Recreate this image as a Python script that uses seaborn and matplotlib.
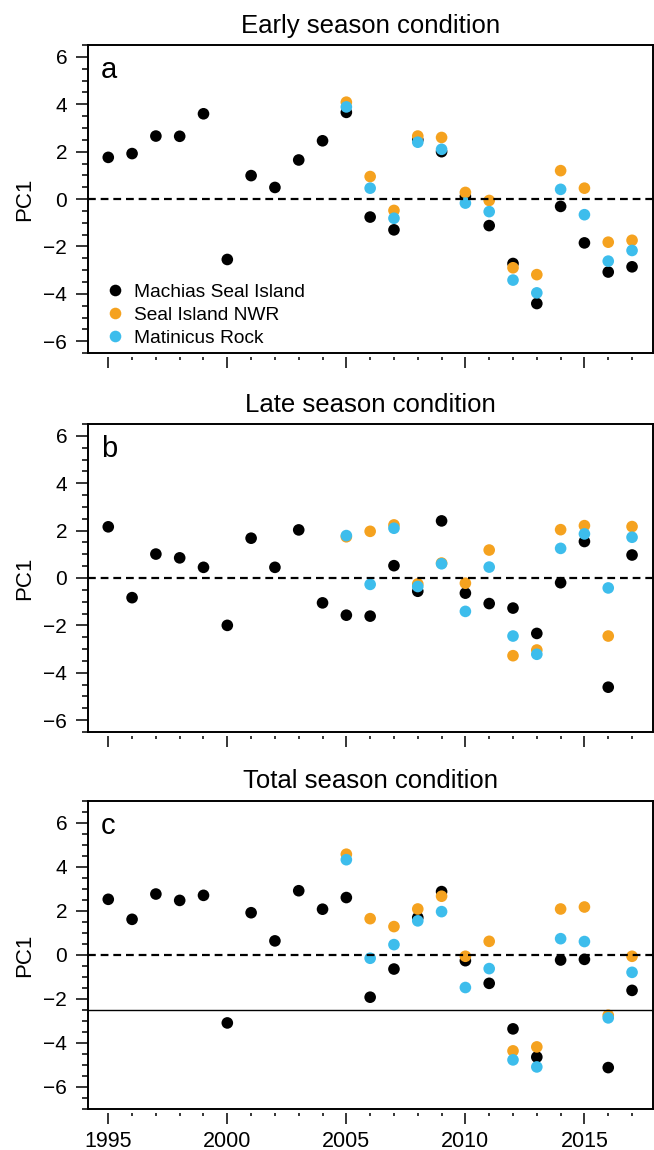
import numpy as np
import pandas as pd
import seaborn as sns
import matplotlib.pyplot as plt
from matplotlib.ticker import MultipleLocator

# Anos e locais
years_all = list(range(1995, 2018))
years_new = list(range(2005, 2018))
sites = ['Machias Seal Island', 'Seal Island NWR', 'Matinicus Rock']
colors = {'Machias Seal Island': 'black',
          'Seal Island NWR': '#f5a21f',
          'Matinicus Rock': '#3dbdec'}

# a - Early season
early_msi = [1.76, 1.92, 2.66, 2.65, 3.60, -2.55, 0.99, 0.49, 1.65, 2.46, 3.66,
             -0.76, -1.30, 2.50, 2.00, 0.11, -1.12, -2.72, -4.41, -0.31, -1.85, -3.08, -2.86]
early_sin = [4.09, 0.95, -0.48, 2.66, 2.60, 0.28, -0.06, -2.90, -3.19, 1.20, 0.46, -1.82, -1.74]
early_mr = [3.89, 0.46, -0.81, 2.40, 2.10, -0.17, -0.53, -3.42, -3.96, 0.41, -0.66, -2.62, -2.17]

# b - Late season
late_msi = [2.16, -0.83, 1.01, 0.85, 0.45, -2.00, 1.68, 0.45, 2.03, -1.05, -1.57,
            -1.61, 0.52, -0.56, 2.41, -0.64, -1.08, -1.27, -2.34, -0.20, 1.54, -4.61, 0.97]
late_sin = [1.74, 1.97, 2.24, -0.25, 0.63, -0.22, 1.18, -3.28, -3.04, 2.04, 2.21, -2.45, 2.17]
late_mr = [1.79, -0.27, 2.10, -0.36, 0.60, -1.41, 0.46, -2.45, -3.22, 1.25, 1.86, -0.42, 1.72]

# c - Total season
total_msi = [2.53, 1.62, 2.77, 2.48, 2.71, -3.09, 1.92, 0.64, 2.92, 2.08, 2.61,
             -1.92, -0.64, 1.70, 2.88, -0.26, -1.29, -3.36, -4.64, -0.23, -0.20, -5.12, -1.61]
total_sin = [4.58, 1.65, 1.29, 2.09, 2.67, -0.06, 0.62, -4.36, -4.18, 2.09, 2.18, -2.74, -0.06]
total_mr = [4.33, -0.15, 0.47, 1.55, 1.97, -1.48, -0.62, -4.77, -5.09, 0.74, 0.61, -2.86, -0.79]

panels = [
    ('Early season condition', 'a', early_msi, early_sin, early_mr, 6.5),
    ('Late season condition', 'b', late_msi, late_sin, late_mr, 6.5),
    ('Total season condition', 'c', total_msi, total_sin, total_mr, 7.0),
]


def montar_df(msi, sin, mr):
    d1 = pd.DataFrame({'ano': years_all, 'PC1': msi, 'site': sites[0]})
    d2 = pd.DataFrame({'ano': years_new, 'PC1': sin, 'site': sites[1]})
    d3 = pd.DataFrame({'ano': years_new, 'PC1': mr, 'site': sites[2]})
    return pd.concat([d1, d2, d3], ignore_index=True)


sns.set_theme(style='white')
plt.rcParams['font.family'] = ['Liberation Sans', 'DejaVu Sans']
plt.rcParams['text.color'] = 'black'
plt.rcParams['axes.labelcolor'] = 'black'
plt.rcParams['xtick.color'] = 'black'
plt.rcParams['ytick.color'] = 'black'

fig = plt.figure(figsize=(6.54, 11.5), dpi=100)
bottoms = [0.6930, 0.3635, 0.0357]
left, width, height = 0.1346, 0.8635, 0.2678

for i, (titulo, letra, msi, sin, mr, ylim) in enumerate(panels):
    ax = fig.add_axes([left, bottoms[i], width, height])
    df = montar_df(msi, sin, mr)
    sns.scatterplot(data=df, x='ano', y='PC1', hue='site', palette=colors,
                    hue_order=sites, s=70, linewidth=0, edgecolor='none',
                    legend=(i == 0), ax=ax)
    ax.axhline(0, color='black', lw=1.6, ls=(0, (3.5, 2.2)))
    if letra == 'c':
        ax.axhline(-2.5, color='black', lw=1.0)

    ax.set_xlim(1994.15, 2017.87)
    ax.set_ylim(-ylim, ylim)
    ax.set_title(titulo, fontsize=18.5, pad=9, color='black')
    ax.text(0.023, 0.965, letra, transform=ax.transAxes, fontsize=21,
            va='top', ha='left')
    ax.set_ylabel('PC1', fontsize=16)
    ax.yaxis.set_label_coords(-0.094, 0.5)
    ax.set_xlabel('')

    ax.yaxis.set_major_locator(MultipleLocator(2))
    ax.yaxis.set_minor_locator(MultipleLocator(0.5))
    ax.xaxis.set_major_locator(MultipleLocator(5))
    ax.xaxis.set_minor_locator(MultipleLocator(1))
    ax.tick_params(axis='y', which='major', direction='out', length=9, width=1.1,
                   labelsize=15, pad=6, left=True)
    ax.tick_params(axis='y', which='minor', direction='out', length=4, width=1.1,
                   left=True)
    ax.tick_params(axis='x', which='major', direction='out', length=8, width=1.1,
                   labelsize=15.5, pad=5, bottom=True)
    ax.tick_params(axis='x', which='minor', direction='out', length=2.5, width=1.1,
                   bottom=True)
    if letra != 'c':
        ax.tick_params(axis='x', labelbottom=False)

    for lado in ['left', 'top', 'right']:
        ax.spines[lado].set_color('black')
        ax.spines[lado].set_linewidth(1.4)
    # eixo x separado da caixa, como no R
    ax.spines['bottom'].set_position(('outward', 3))
    ax.spines['bottom'].set_visible(False)
    ax.plot([0, 1], [0, 0], transform=ax.transAxes, color='black', lw=1.4,
            clip_on=False)

    if i == 0:
        leg = ax.get_legend()
        handles = leg.legend_handles
        labels = [t.get_text() for t in leg.get_texts()]
        leg.remove()
        ax.legend(handles, labels, loc='lower left', bbox_to_anchor=(0.03, 0.02),
                  frameon=False, fontsize=13.8, handlelength=1.0, handletextpad=0.5,
                  labelspacing=0.3, borderpad=0, borderaxespad=0)

fig.savefig('out.png', dpi=100)
